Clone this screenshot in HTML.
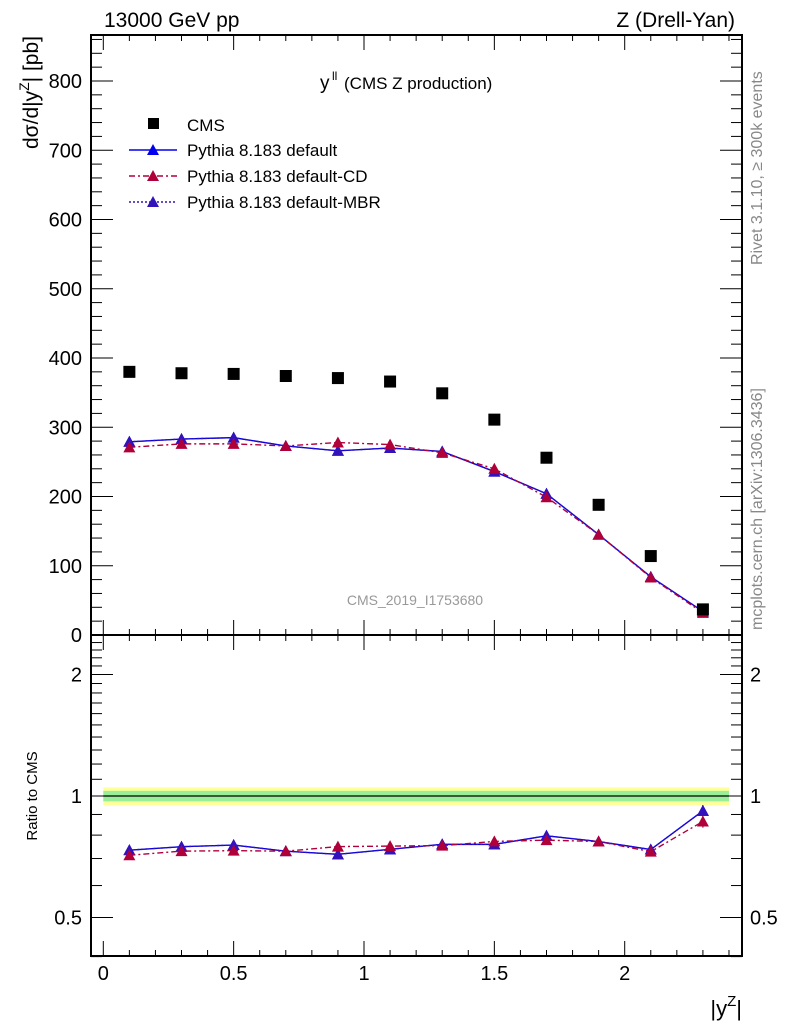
<!DOCTYPE html>
<html><head><meta charset="utf-8">
<style>
html,body{margin:0;padding:0;background:#fff;}
svg text{font-family:"Liberation Sans",sans-serif;}
</style></head>
<body>
<svg id="c" width="786" height="1024" xmlns="http://www.w3.org/2000/svg"></svg>
<script>
const xCenters=[0.1,0.3,0.5,0.7,0.9,1.1,1.3,1.5,1.7,1.9,2.1,2.3];
const cmsVals=[380,378,377,374,371,366,349,311,256,188,114,37];
const defVals=[279,283,285,273,266,270,265,236,204,145,84,34];
const cdVals=[271,276,276,273,278,275,263,240,199,145,83,32];
const mbrVals=[279,283,285,273,266,270,265,236,204,145,84,34];
const ratioErr=[0.005,0.005,0.005,0.005,0.005,0.005,0.006,0.006,0.008,0.01,0.015,0.03];
const mainTicks=[0,100,200,300,400,500,600,700,800];
const ratioTicks=[0.5,1,2];
const xTicks=[0,0.5,1,1.5,2];

const NS="http://www.w3.org/2000/svg";
const svg=document.getElementById('c');
const L=91,R=742,T=35,MB=635,RB=956;
const X=v=>103.3+v*260.7;
const Y=v=>MB-v*0.6925;
const YR=v=>796-Math.log2(v)*121.5;
function el(tag,attrs,name,txt,parent){const e=document.createElementNS(NS,tag);for(const k in attrs)e.setAttribute(k,attrs[k]);


if(txt!==undefined)e.textContent=txt;(parent||svg).appendChild(e);return e;}

// band
el('rect',{x:X(0),y:YR(1.05),width:X(2.4)-X(0),height:YR(0.95)-YR(1.05),fill:'#ffff99'},'uncertainty-band-outer');
el('rect',{x:X(0),y:YR(1.03),width:X(2.4)-X(0),height:YR(0.97)-YR(1.03),fill:'#99ee99'},'uncertainty-band-inner');
el('line',{x1:X(0),x2:X(2.4),y1:YR(1),y2:YR(1),stroke:'#000','stroke-width':1.2},'ratio-reference-line');

// frames
el('rect',{x:L,y:T,width:R-L,height:MB-T,fill:'none',stroke:'#000','stroke-width':2},'main-frame');
el('rect',{x:L,y:MB,width:R-L,height:RB-MB,fill:'none',stroke:'#000','stroke-width':2},'ratio-frame');

// x ticks
for(let i=0;i<=24;i++){const v=i*0.1,x=X(v),big=(i%5===0);
 const h=big?15:6;
 el('line',{x1:x,x2:x,y1:T,y2:T+h,stroke:'#000'},'x-tick');
 el('line',{x1:x,x2:x,y1:MB,y2:MB-h,stroke:'#000'},'x-tick');
 el('line',{x1:x,x2:x,y1:MB,y2:MB+h,stroke:'#000'},'x-tick');
 el('line',{x1:x,x2:x,y1:RB,y2:RB-h,stroke:'#000'},'x-tick');}
xTicks.forEach(v=>el('text',{x:X(v),y:980,'font-size':20,'text-anchor':'middle'},'x-tick-label',String(v)));

// main y ticks
for(let v=0;v<=860;v+=20){const y=Y(v),big=v%100===0,h=big?22:11;
 el('line',{x1:L,x2:L+h,y1:y,y2:y,stroke:'#000'},'y-tick');
 el('line',{x1:R,x2:R-h,y1:y,y2:y,stroke:'#000'},'y-tick');}
mainTicks.forEach(v=>el('text',{x:82,y:Y(v)+7,'font-size':20,'text-anchor':'end'},'y-tick-label',String(v)));

// ratio ticks
const minor=[0.4,0.6,0.7,0.8,0.9,1.1,1.2,1.3,1.4,1.5,1.6,1.7,1.8,1.9,2.1,2.2,2.3,2.4];
minor.forEach(v=>{const y=YR(v);el('line',{x1:L,x2:L+11,y1:y,y2:y,stroke:'#000'},'ratio-minor-tick');el('line',{x1:R,x2:R-11,y1:y,y2:y,stroke:'#000'},'ratio-minor-tick');});
ratioTicks.forEach(v=>{const y=YR(v);el('line',{x1:L,x2:L+22,y1:y,y2:y,stroke:'#000'},'ratio-major-tick');el('line',{x1:R,x2:R-22,y1:y,y2:y,stroke:'#000'},'ratio-major-tick');
 el('text',{x:82,y:y+7,'font-size':20,'text-anchor':'end'},'ratio-tick-label-left',String(v));
 el('text',{x:750,y:y+7,'font-size':20},'ratio-tick-label-right',String(v));});

// series
function series(vals,color,dash,name,ratio){
 const ys=xCenters.map((x,i)=>ratio?YR(vals[i]/cmsVals[i]):Y(vals[i]));
 const pts=xCenters.map((x,i)=>X(x)+','+ys[i]).join(' ');
 const a={points:pts,fill:'none',stroke:color,'stroke-width':1.4};if(dash)a['stroke-dasharray']=dash;
 el('polyline',a,name+'-line');
 xCenters.forEach((x,i)=>{const cx=X(x),cy=ys[i];
  if(ratio){const r=vals[i]/cmsVals[i];
   el('line',{x1:cx,x2:cx,y1:YR(r+ratioErr[i]),y2:YR(r-ratioErr[i]),stroke:color,'stroke-width':1.2},name+'-errorbar');}
  el('polygon',{points:`${cx-6},${cy+5} ${cx+6},${cy+5} ${cx},${cy-6}`,fill:color},name+'-marker');});
}
series(defVals,'#0000ee',null,'default',false);
series(mbrVals,'#3311bb','2,2','mbr',false);
series(cdVals,'#b0003a','6,3,2,3','cd',false);
series(defVals,'#0000ee',null,'default-ratio',true);
series(mbrVals,'#3311bb','2,2','mbr-ratio',true);
series(cdVals,'#b0003a','6,3,2,3','cd-ratio',true);
xCenters.forEach((x,i)=>el('rect',{x:X(x)-6,y:Y(cmsVals[i])-6,width:12,height:12,fill:'#000'},'cms-marker'));

// texts
el('text',{x:104,y:27,'font-size':21},'energy-label','13000 GeV pp');
el('text',{x:735,y:27,'font-size':21,'text-anchor':'end'},'process-label','Z (Drell-Yan)');
el('text',{x:320,y:89,'font-size':19},'plot-title','y');
el('text',{x:332,y:80,'font-size':12},'plot-title-sup','ll');
el('text',{x:344,y:89,'font-size':17},'plot-title-rest','(CMS Z production)');
el('text',{x:415,y:605,'font-size':14,fill:'#999','text-anchor':'middle'},'analysis-id','CMS_2019_I1753680');
const yt=el('text',{x:0,y:0,'font-size':21,transform:'translate(38,36) rotate(-90)','text-anchor':'end'},'y-axis-title');
el('tspan',{},'y-axis-title-part','dσ/d|y',yt);
el('tspan',{dy:-9,'font-size':14},'y-axis-title-sup','Z',yt);
el('tspan',{dy:9},'y-axis-title-part',"| [pb]",yt);
el('text',{x:0,y:0,'font-size':15,transform:'translate(37,796) rotate(-90)','text-anchor':'middle'},'ratio-axis-title','Ratio to CMS');
const xt=el('text',{x:742,y:1016,'font-size':22,'text-anchor':'end'},'x-axis-title');
el('tspan',{},'x-axis-title-part','|y',xt);
el('tspan',{dy:-10,'font-size':15},'x-axis-title-sup','Z',xt);
el('tspan',{dy:10},'x-axis-title-part','|',xt);
el('text',{x:0,y:0,'font-size':16,fill:'#888',transform:'translate(762,265) rotate(-90)'},'rivet-label','Rivet 3.1.10, ≥ 300k events');
el('text',{x:0,y:0,'font-size':16,fill:'#888',transform:'translate(762,630) rotate(-90)'},'mcplots-label','mcplots.cern.ch [arXiv:1306.3436]');

// legend
el('rect',{x:148,y:118,width:11,height:11,fill:'#000'},'legend-cms-marker');
el('text',{x:187,y:131,'font-size':17},'legend-cms-label','CMS');
const leg=[['#0000ee',null,'Pythia 8.183 default'],['#b0003a','6,3,2,3','Pythia 8.183 default-CD'],['#3311bb','2,2','Pythia 8.183 default-MBR']];
leg.forEach((l,i)=>{const y=150+i*26;const a={x1:129,x2:177,y1:y,y2:y,stroke:l[0],'stroke-width':1.4};if(l[1])a['stroke-dasharray']=l[1];
 el('line',a,'legend-line');
 el('polygon',{points:`${147},${y+5} ${159},${y+5} ${153},${y-6}`,fill:l[0]},'legend-marker');
 el('text',{x:187,y:y+6,'font-size':17},'legend-label',l[2]);});
</script>
</body></html>
